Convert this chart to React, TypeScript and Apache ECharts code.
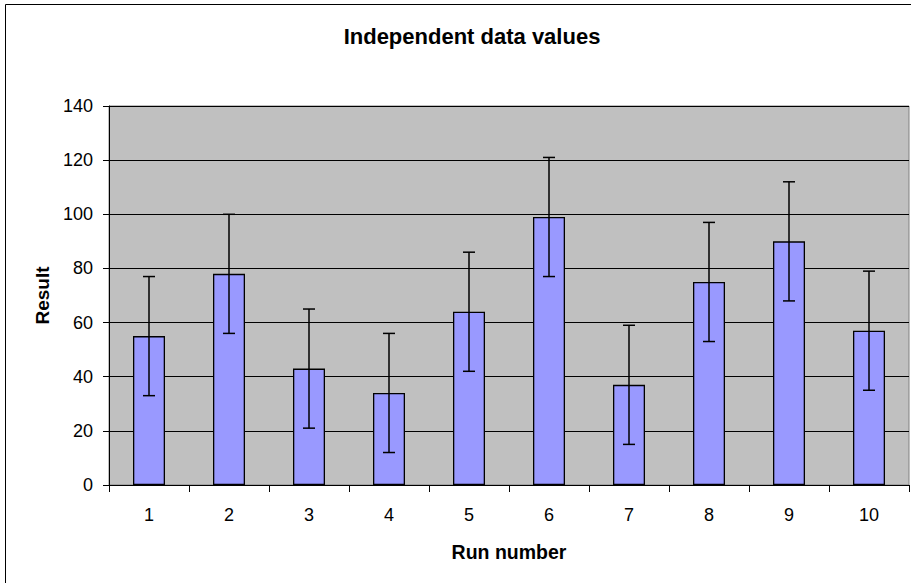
import React, { useEffect, useRef } from "react";
import * as echarts from "echarts";

const runNumbers = ["1", "2", "3", "4", "5", "6", "7", "8", "9", "10"];
const results = [55, 78, 43, 34, 64, 99, 37, 75, 90, 57];
const errorSize = [22, 22, 22, 22, 22, 22, 22, 22, 22, 22];
const yTicks = { min: 0, max: 140, interval: 20 };

export default function App() {
  const ref = useRef<HTMLDivElement>(null);
  useEffect(() => {
    if (!ref.current) return;
    const chart = echarts.init(ref.current, undefined, { renderer: "svg" });
    const errData = results.map((v, i) => [i, v - errorSize[i], v + errorSize[i]]);
    const font = "Liberation Sans, Arial, sans-serif";
    chart.setOption({
      animation: false,
      backgroundColor: "#ffffff",
      title: {
        text: "Independent data values",
        left: 467,
        textAlign: "center",
        top: 20,
        textStyle: { fontFamily: font, fontSize: 22, fontWeight: "bold", color: "#000" },
      },
      graphic: [
        {
          type: "rect",
          shape: { x: 5.5, y: 4.5, width: 1000, height: 1000 },
          style: { fill: "none", stroke: "#000", lineWidth: 1 },
          silent: true,
        },
      ],
      grid: {
        left: 109,
        right: 2,
        top: 106,
        bottom: 98,
        show: true,
        backgroundColor: "#C0C0C0",
        borderColor: "#808080",
        borderWidth: 1,
      },
      xAxis: {
        type: "category",
        data: runNumbers,
        name: "Run number",
        nameLocation: "middle",
        nameGap: 57,
        nameTextStyle: { fontFamily: font, fontSize: 19.5, fontWeight: "bold", color: "#000", verticalAlign: "top" },
        axisLine: { show: true, lineStyle: { color: "#000", width: 1 } },
        axisTick: { show: true, length: 7, interval: 0, lineStyle: { color: "#000" } },
        axisLabel: { fontFamily: font, fontSize: 18, color: "#000", margin: 21, verticalAlign: "top", interval: 0 },
        splitLine: { show: false },
      },
      yAxis: {
        type: "value",
        min: yTicks.min,
        max: yTicks.max,
        interval: yTicks.interval,
        name: "Result",
        nameLocation: "middle",
        nameGap: 54,
        nameTextStyle: { fontFamily: font, fontSize: 19, fontWeight: "bold", color: "#000" },
        axisLine: { show: true, lineStyle: { color: "#000", width: 1 } },
        axisTick: { show: true, length: 6, lineStyle: { color: "#000" } },
        axisLabel: { fontFamily: font, fontSize: 18, color: "#000", margin: 16 },
        splitLine: { show: true, lineStyle: { color: "#000", width: 1 } },
      },
      series: [
        {
          type: "bar",
          data: results,
          barWidth: "40%",
          itemStyle: { color: "#9999FF", borderColor: "#000", borderWidth: 1.3 },
        },
        {
          type: "custom",
          data: errData,
          encode: { x: 0, y: [1, 2] },
          z: 10,
          renderItem: (params: any, api: any) => {
            const idx = api.value(0);
            const low = api.coord([idx, api.value(1)]);
            const high = api.coord([idx, api.value(2)]);
            const hw = 6;
            const style = { stroke: "#000", lineWidth: 1.5 };
            return {
              type: "group",
              children: [
                { type: "line", shape: { x1: high[0], y1: high[1], x2: low[0], y2: low[1] }, style },
                { type: "line", shape: { x1: high[0] - hw, y1: high[1], x2: high[0] + hw, y2: high[1] }, style },
                { type: "line", shape: { x1: low[0] - hw, y1: low[1], x2: low[0] + hw, y2: low[1] }, style },
              ],
            };
          },
        },
      ],
    });
    return () => chart.dispose();
  }, []);
  return <div ref={ref} style={{ position: "fixed", left: 0, top: 0, width: 911, height: 583 }} />;
}
